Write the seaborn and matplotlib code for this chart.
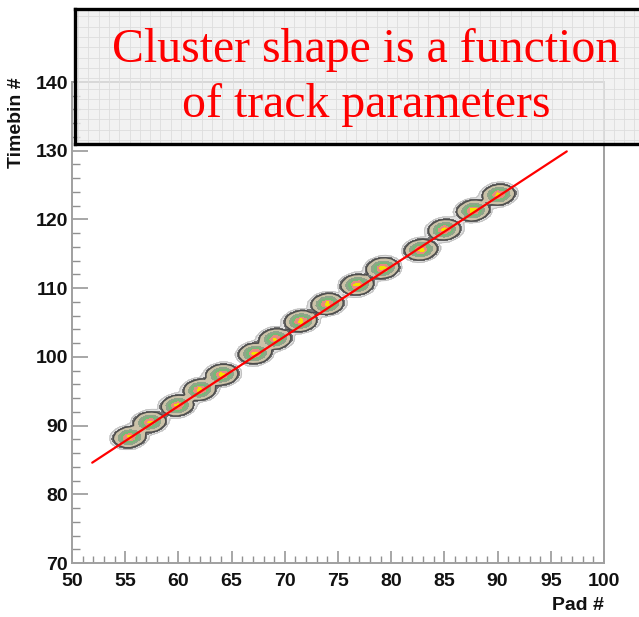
import numpy as np
import pandas as pd
import matplotlib
matplotlib.use("Agg")
import matplotlib.pyplot as plt
from matplotlib.ticker import MultipleLocator
import seaborn as sns

# Reconstructed track (straight-line fit through the clusters)
track_pad = [51.9, 96.5]
track_time = [84.6, 129.9]

# Cluster centres (pad, timebin) and relative charge
cluster_pad = [55.4, 57.3, 59.9, 62.0, 64.1, 67.2, 69.1, 71.5, 74.0, 76.8, 79.2, 82.8, 85.0, 87.7, 90.1]
cluster_time = [88.3, 90.5, 92.9, 95.2, 97.4, 100.5, 102.6, 105.2, 107.7, 110.5, 112.9, 115.6, 118.5, 121.3, 123.6]
cluster_charge = [1.0, 0.95, 1.0, 1.0, 1.0, 1.0, 0.95, 1.0, 1.0, 1.0, 1.0, 1.0, 1.0, 1.0, 1.0]

x_ticks = [50, 55, 60, 65, 70, 75, 80, 85, 90, 95, 100]
y_ticks = [70, 80, 90, 100, 110, 120, 130, 140]

title_lines = ["Cluster shape is a function", "of track parameters"]

sns.set_theme(style="white")
plt.rcParams["font.family"] = ["Liberation Sans", "DejaVu Sans"]

W, H = 639, 617
fig = plt.figure(figsize=(W / 100, H / 100), dpi=100)
fig.patch.set_facecolor("white")

# main pad
L, R, T, B = 72, 604, 82, 563
ax = fig.add_axes([L / W, 1 - B / H, (R - L) / W, (B - T) / H])
ax.set_facecolor("white")
ax.set_xlim(50, 100)
ax.set_ylim(70, 140)

# charge distribution of each cluster, slightly elongated along the track
gx = np.arange(50, 100.01, 0.5)
gy = np.arange(70, 140.01, 0.5)
X, Y = np.meshgrid(gx, gy)
Z = np.zeros_like(X)
s_along, s_across = 0.76, 0.68
for cx, cy, q in zip(cluster_pad, cluster_time, cluster_charge):
    u = ((X - cx) + (Y - cy)) / np.sqrt(2)
    v = (-(X - cx) + (Y - cy)) / np.sqrt(2)
    Z = np.maximum(Z, q * np.exp(-0.5 * (u ** 2 / s_along ** 2 + v ** 2 / s_across ** 2)))

levels = [0.04, 0.09, 0.15, 0.34, 0.52, 0.72, 0.88, 1.05]
colors = ["#e0e0e0", "#747474", "#cbc2a8", "#8fa58a", "#78b878", "#e88a80", "#f0e400"]
ax.contourf(X, Y, Z, levels=levels, colors=colors, zorder=1)
ax.contour(X, Y, Z, levels=[0.12], colors=["#4c4c4c"], linewidths=1.0, zorder=1)
ax.contour(X, Y, Z, levels=[0.045], colors=["#c0c0c0"], linewidths=0.7, zorder=1)

track = pd.DataFrame({"pad": track_pad, "timebin": track_time})
sns.lineplot(data=track, x="pad", y="timebin", color="#ff0000", lw=1.6, ax=ax, zorder=3)

# axes frame and ticks
for s in ["left", "bottom", "right", "top"]:
    ax.spines[s].set_visible(True)
    ax.spines[s].set_color("#a0a0a0")
    ax.spines[s].set_linewidth(1.4)
ax.set_xticks(x_ticks)
ax.set_yticks(y_ticks)
ax.xaxis.set_minor_locator(MultipleLocator(1))
ax.yaxis.set_minor_locator(MultipleLocator(2))
ax.tick_params(axis="x", which="major", direction="in", length=9, width=1.1, color="#909090",
               bottom=True, top=False, pad=7)
ax.tick_params(axis="x", which="minor", direction="in", length=5, width=1.0, color="#909090",
               bottom=True, top=False)
ax.tick_params(axis="y", which="major", direction="in", length=11.5, width=1.1, color="#909090",
               left=True, right=False, pad=3)
ax.tick_params(axis="y", which="minor", direction="in", length=5.5, width=1.0, color="#909090",
               left=True, right=False)
for lab in ax.get_xticklabels() + ax.get_yticklabels():
    lab.set_fontweight("bold")
    lab.set_fontsize(14)
    lab.set_color("#111111")
ax.set_xlabel("Pad #", fontsize=14, fontweight="bold", loc="right", labelpad=5, color="#111111")
ax.set_ylabel("Timebin #", fontsize=14, fontweight="bold", loc="top", color="#111111")
ax.yaxis.set_label_coords(-0.088, 1.01)

# title box laid over the top of the pad
bL, bT, bB = 75, 9, 144
bx = fig.add_axes([bL / W, 1 - bB / H, (W + 20 - bL) / W, (bB - bT) / H], zorder=5)
bx.set_xlim(0, W + 20 - bL)
bx.set_ylim(0, bB - bT)
bx.patch.set_facecolor("#eeeeee")
bx.patch.set_alpha(0.72)
step = 10.3
bx.set_xticks(np.arange(3, W + 20 - bL, step))
bx.set_yticks(np.arange(4, bB - bT, step))
bx.grid(True, color="#dddddd", lw=0.6)
bx.tick_params(length=0, labelbottom=False, labelleft=False)
for s in bx.spines.values():
    s.set_visible(True)
    s.set_color("black")
    s.set_linewidth(2.4)

fig.text(366 / W, 1 - 62 / H, title_lines[0], ha="center", va="baseline", color="#ff0000",
         fontsize=34.4, family=["Liberation Serif", "DejaVu Serif"], zorder=10)
fig.text(366 / W, 1 - 117 / H, title_lines[1], ha="center", va="baseline", color="#ff0000",
         fontsize=34.4, family=["Liberation Serif", "DejaVu Serif"], zorder=10)

fig.savefig("out.png", dpi=100, facecolor="white")
